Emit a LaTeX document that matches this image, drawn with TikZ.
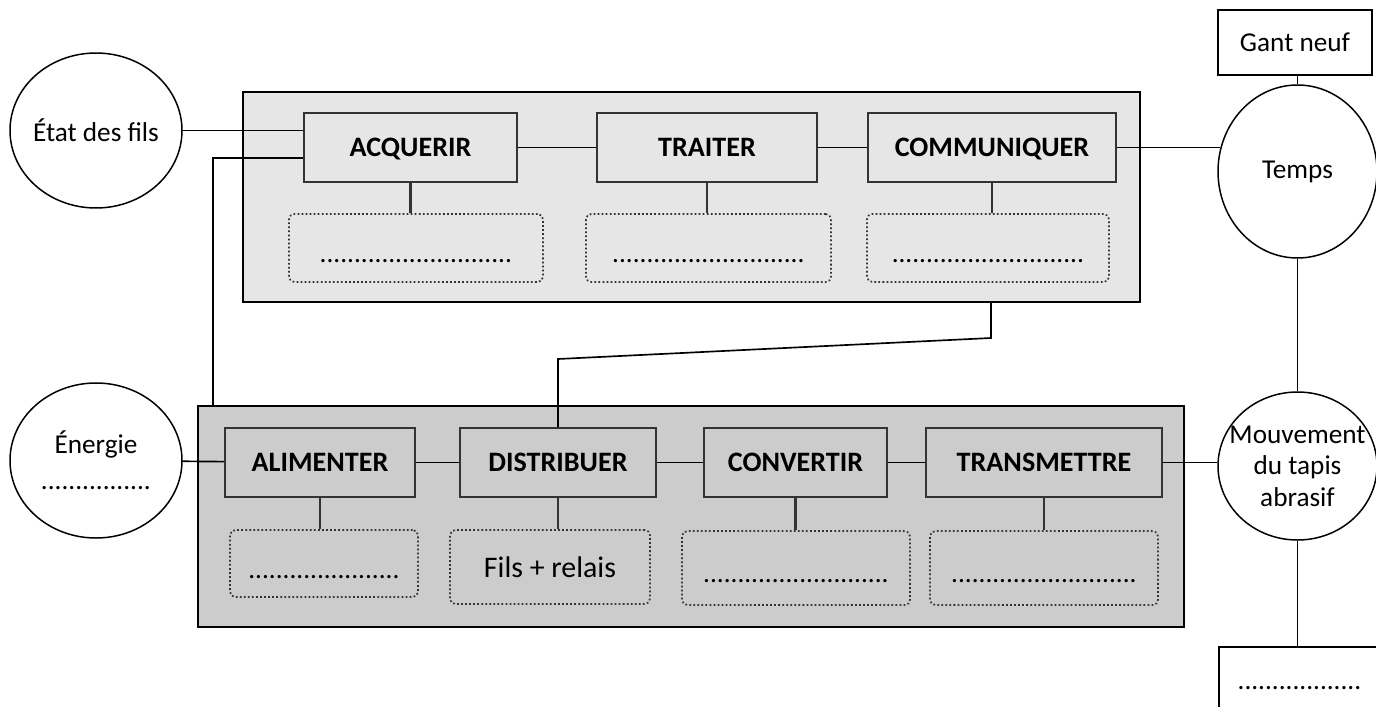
\documentclass[tikz,border=0pt]{standalone}
\usepackage{fontspec}
\setmainfont{Carlito}
\usetikzlibrary{shapes.geometric,positioning}
\definecolor{CadreClair}{HTML}{E6E6E6}
\definecolor{CadreFonce}{HTML}{CCCCCC}
\definecolor{TraitFonce}{HTML}{333333}

\begin{document}
\begin{tikzpicture}[
  cadre/.style={draw=black, line width=1.1pt, inner sep=0pt},
  fonction/.style={draw=TraitFonce, line width=1.3pt, minimum height=1.38cm, inner sep=0pt, text height=10.4pt, text depth=0pt, font=\fontsize{16}{19}\selectfont\bfseries},
  solution/.style={draw=TraitFonce, line width=0.95pt, dash pattern=on 1pt off 1.3pt, rounded corners=3pt, inner sep=0pt, align=center, font=\fontsize{15.5}{17}\selectfont},
  milieu/.style={ellipse, draw=black, line width=0.85pt, fill=white, inner sep=-0.4cm, align=center, font=\fontsize{15.5}{18}\selectfont},
  sortie/.style={draw=black, line width=1.1pt, fill=white, inner sep=0pt, align=center, font=\fontsize{15.5}{18}\selectfont},
  lien/.style={draw=black, line width=0.95pt},
  tige/.style={draw=TraitFonce, line width=1.6pt}
]
\useasboundingbox (0,0) rectangle (27.52,-14.12);

\node[cadre, fill=CadreClair, minimum width=17.94cm, minimum height=4.20cm] (haut) at (13.83,-3.94) {};
\node[cadre, fill=CadreFonce, minimum width=19.72cm, minimum height=4.42cm] (bas) at (13.82,-10.33) {};

\node[fonction, minimum width=4.26cm] (acquerir) at (8.21,-2.95) {ACQUERIR};
\node[fonction, minimum width=4.40cm] (traiter) at (14.14,-2.95) {TRAITER};
\node[fonction, minimum width=4.96cm] (communiquer) at (19.84,-2.95) {COMMUNIQUER};
\node[solution, minimum width=5.08cm, minimum height=1.36cm] (s-acquerir) at (8.32,-4.96) {\mbox{}\\............................};
\node[solution, minimum width=4.90cm, minimum height=1.36cm] (s-traiter) at (14.17,-4.96) {\mbox{}\\............................};
\node[solution, minimum width=4.84cm, minimum height=1.36cm] (s-communiquer) at (19.76,-4.96) {\mbox{}\\............................};

\node[fonction, minimum width=3.80cm] (alimenter) at (6.40,-9.25) {ALIMENTER};
\node[fonction, minimum width=3.92cm] (distribuer) at (11.16,-9.25) {DISTRIBUER};
\node[fonction, minimum width=3.66cm] (convertir) at (15.91,-9.25) {CONVERTIR};
\node[fonction, minimum width=4.72cm] (transmettre) at (20.88,-9.25) {TRANSMETTRE};
\node[solution, minimum width=3.76cm, minimum height=1.34cm] (s-alimenter) at (6.48,-11.27) {\mbox{}\\......................};
\node[solution, minimum width=4.00cm, minimum height=1.48cm, font=\fontsize{17}{20}\selectfont] (s-distribuer) at (11.00,-11.34) {Fils + relais};
\node[solution, minimum width=4.56cm, minimum height=1.48cm] (s-convertir) at (15.92,-11.36) {\mbox{}\\...........................};
\node[solution, minimum width=4.56cm, minimum height=1.48cm] (s-transmettre) at (20.88,-11.36) {\mbox{}\\...........................};

\node[milieu, minimum width=3.44cm, minimum height=3.10cm] (etat) at (1.92,-2.61) {État des fils};
\node[milieu, minimum width=3.44cm, minimum height=3.10cm, font=\fontsize{15.5}{20.5}\selectfont] (energie) at (1.92,-9.21) {Énergie\\................};
\node[milieu, minimum width=3.18cm, minimum height=3.46cm] (temps) at (25.95,-3.43) {Temps};
\node[milieu, minimum width=3.18cm, minimum height=2.96cm, font=\fontsize{15.5}{17.9}\selectfont] (mouvement) at (25.95,-9.32) {Mouvement\\du tapis\\abrasif};
\node[sortie, minimum width=3.08cm, minimum height=1.30cm] (gant) at (25.90,-0.85) {Gant neuf};
\node[sortie, minimum width=3.22cm, minimum height=1.66cm] (vide) at (25.99,-13.77) {..................};

\coordinate (coude) at (4.26,-3.16);
\coordinate (k1) at (19.82,-6.76);
\coordinate (k2) at (11.16,-7.18);

\draw[lien] (etat.east) -- (etat.east -| acquerir.west);
\draw[lien] ([yshift=-0.21cm]acquerir.west) -- (coude) -- (coude |- bas.north);
\draw[lien] (acquerir) -- (traiter);
\draw[lien] (traiter) -- (communiquer);
\draw[lien] (communiquer.east) -- ([xshift=0.06cm]communiquer.east -| temps.west);
\draw[lien] (temps.north) -- (temps.north |- gant.south);
\draw[lien] (temps) -- (mouvement);
\draw[lien] (transmettre.east) -- (transmettre.east -| mouvement.west);
\draw[lien] (mouvement.south) -- (mouvement.south |- vide.north);
\draw[lien] (energie) -- (alimenter);
\draw[lien] (alimenter) -- (distribuer);
\draw[lien] (distribuer) -- (convertir);
\draw[lien] (convertir) -- (transmettre);
\draw[lien] (k1 |- haut.south) -- (k1) -- (k2) -- (distribuer.north);

\draw[tige] (acquerir.south) -- (acquerir.south |- s-acquerir.north);
\draw[tige] (traiter.south) -- (traiter.south |- s-traiter.north);
\draw[tige] (communiquer.south) -- (communiquer.south |- s-communiquer.north);
\draw[tige] (alimenter.south) -- (alimenter.south |- s-alimenter.north);
\draw[tige] (distribuer.south) -- (distribuer.south |- s-distribuer.north);
\draw[tige] (convertir.south) -- (convertir.south |- s-convertir.north);
\draw[tige] (transmettre.south) -- (transmettre.south |- s-transmettre.north);
\end{tikzpicture}
\end{document}
